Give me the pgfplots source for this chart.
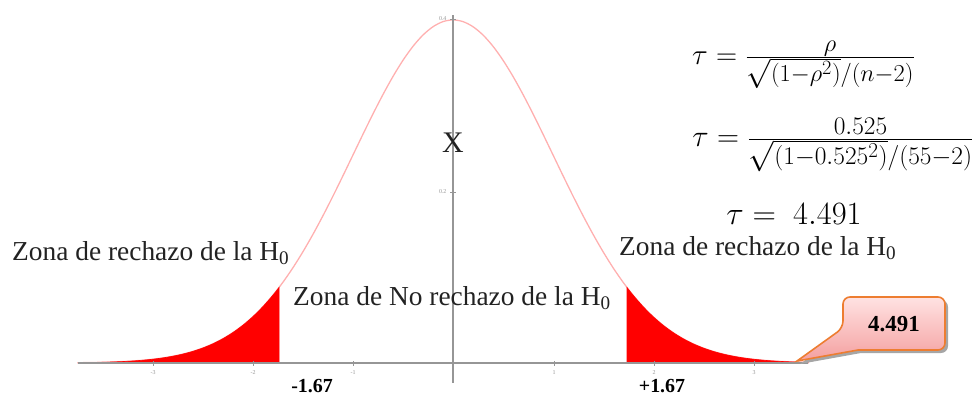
\documentclass[border=0pt]{standalone}
\usepackage{fontspec}
\setmainfont{Liberation Serif}
\usepackage{pgfplots}
\pgfplotsset{compat=1.18}
\definecolor{curvePink}{RGB}{255,176,176}
\definecolor{tailRed}{RGB}{255,0,0}
\definecolor{axisGray}{RGB}{150,150,150}
\definecolor{txtInk}{RGB}{34,34,34}
\definecolor{boxEdge}{RGB}{237,125,49}
\definecolor{boxTop}{RGB}{255,226,226}
\definecolor{boxBot}{RGB}{244,160,160}

\begin{document}
\begin{tikzpicture}
\begin{axis}[
 at={(0,0)},anchor=north west,
 scale only axis,width=974bp,height=396bp,
 xmin=-4.53,xmax=5.21,ymin=-0.038372,ymax=0.422093,
 hide axis,clip=false]
% normal density, read at steps of 0.1
\addplot[curvePink,line width=1.3bp,smooth] coordinates {
 (-3.75,0.00035) (-3.7,0.00042) (-3.6,0.00061) (-3.5,0.00087) (-3.4,0.00123)
 (-3.3,0.00172) (-3.2,0.00238) (-3.1,0.00327) (-3.0,0.00443) (-2.9,0.00595)
 (-2.8,0.00792) (-2.7,0.01042) (-2.6,0.01358) (-2.5,0.01753) (-2.4,0.02239)
 (-2.3,0.02833) (-2.2,0.03547) (-2.1,0.04398) (-2.0,0.05399) (-1.9,0.06562)
 (-1.8,0.07895) (-1.7,0.09405) (-1.6,0.11092) (-1.5,0.12952) (-1.4,0.14973)
 (-1.3,0.17137) (-1.2,0.19419) (-1.1,0.21785) (-1.0,0.24197) (-0.9,0.26609)
 (-0.8,0.28969) (-0.7,0.31225) (-0.6,0.33322) (-0.5,0.35207) (-0.4,0.36827)
 (-0.3,0.38139) (-0.2,0.39104) (-0.1,0.39695) (0,0.39894)
 (0.1,0.39695) (0.2,0.39104) (0.3,0.38139) (0.4,0.36827) (0.5,0.35207)
 (0.6,0.33322) (0.7,0.31225) (0.8,0.28969) (0.9,0.26609) (1.0,0.24197)
 (1.1,0.21785) (1.2,0.19419) (1.3,0.17137) (1.4,0.14973) (1.5,0.12952)
 (1.6,0.11092) (1.7,0.09405) (1.8,0.07895) (1.9,0.06562) (2.0,0.05399)
 (2.1,0.04398) (2.2,0.03547) (2.3,0.02833) (2.4,0.02239) (2.5,0.01753)
 (2.6,0.01358) (2.7,0.01042) (2.8,0.00792) (2.9,0.00595) (3.0,0.00443)
 (3.1,0.00327) (3.2,0.00238) (3.3,0.00172) (3.4,0.00123) (3.5,0.00087)
 (3.55,0.00073)};
% rejection tails
\addplot[fill=tailRed,draw=tailRed,line width=0.6bp,smooth] coordinates {
 (-3.75,0.00035) (-3.7,0.00042) (-3.6,0.00061) (-3.5,0.00087) (-3.4,0.00123)
 (-3.3,0.00172) (-3.2,0.00238) (-3.1,0.00327) (-3.0,0.00443) (-2.9,0.00595)
 (-2.8,0.00792) (-2.7,0.01042) (-2.6,0.01358) (-2.5,0.01753) (-2.4,0.02239)
 (-2.3,0.02833) (-2.2,0.03547) (-2.1,0.04398) (-2.0,0.05399) (-1.9,0.06562)
 (-1.8,0.07895) (-1.74,0.08780)} \closedcycle;
\addplot[fill=tailRed,draw=tailRed,line width=0.6bp,smooth] coordinates {
 (1.74,0.08780) (1.8,0.07895) (1.9,0.06562) (2.0,0.05399)
 (2.1,0.04398) (2.2,0.03547) (2.3,0.02833) (2.4,0.02239) (2.5,0.01753)
 (2.6,0.01358) (2.7,0.01042) (2.8,0.00792) (2.9,0.00595) (3.0,0.00443)
 (3.1,0.00327) (3.2,0.00238) (3.3,0.00172) (3.4,0.00123) (3.5,0.00087)
 (3.55,0.00073)} \closedcycle;
\end{axis}

\begin{scope}[x=1bp,y=-1bp]
\useasboundingbox (0,0) rectangle (974,396);
% axes
\draw[axisGray,line width=1.4bp] (78,363) -- (808,363);
\draw[axisGray,line width=1.4bp] (453,15) -- (453,383);
\foreach \px/\lab in {153/-3,253/-2,353/-1,554/1,654/2,754/3}{
  \draw[axisGray,line width=0.8bp] (\px,361) -- (\px,366);
  \node[text=axisGray,font=\fontsize{6}{7}\selectfont] at (\px,373) {\lab};
}
\foreach \py/\lab in {19/0.4,192/0.2}{
  \draw[axisGray,line width=0.8bp] (450,\py) -- (456,\py);
  \node[text=axisGray,font=\fontsize{6}{7}\selectfont,anchor=east] at (450,\py) {\lab};
}
% labels
\node[text=txtInk,font=\fontsize{27.5}{30}\selectfont,anchor=base west,inner sep=0] at (12,260) {Zona de rechazo de la H\textsubscript{0}};
\node[text=txtInk,font=\fontsize{27.5}{30}\selectfont,anchor=base west,inner sep=0] at (619,255) {Zona de rechazo de la H\textsubscript{0}};
\node[text=txtInk,font=\fontsize{27.5}{30}\selectfont,anchor=base west,inner sep=0] at (293,305) {Zona de No rechazo de la H\textsubscript{0}};
\node[text=txtInk,font=\fontsize{30}{32}\selectfont] at (453,143) {X};
\node[font=\bfseries\fontsize{20}{22}\selectfont] at (312,386) {-1.67};
\node[font=\bfseries\fontsize{20}{22}\selectfont] at (662,386) {+1.67};
% formulas (math fonts stop at 24.88pt, so scale the nodes)
\node[anchor=west,inner sep=0,scale=1.18,font=\fontsize{24.88}{28}\selectfont] at (692,65)
  {$\tau = \frac{\rho}{\sqrt{(1-\rho^{2})}/(n-2)}$};
\node[anchor=west,inner sep=0,scale=1.23,font=\fontsize{24.88}{28}\selectfont] at (692,145)
  {$\tau = \frac{0.525}{\sqrt{(1-0.525^{2})}/(55-2)}$};
\node[anchor=west,inner sep=0,scale=1.31,font=\fontsize{24.88}{28}\selectfont] at (726,214)
  {$\tau = \ 4.491$};
% callout
\fill[black!35,rounded corners=7bp,xshift=3bp,yshift=-3bp]
  (843,328) [sharp corners] -- (797,361) -- (858,350) [rounded corners=7bp]
  -- (945,350) -- (945,297) -- (843,297) -- cycle;
\shade[top color=boxTop,bottom color=boxBot,draw=boxEdge,line width=1.6bp,rounded corners=7bp]
  (843,328) [sharp corners] -- (797,361) -- (858,350) [rounded corners=7bp]
  -- (945,350) -- (945,297) -- (843,297) -- cycle;
\node[font=\bfseries\fontsize{23}{25}\selectfont] at (894,324) {4.491};
\end{scope}
\end{tikzpicture}
\end{document}
